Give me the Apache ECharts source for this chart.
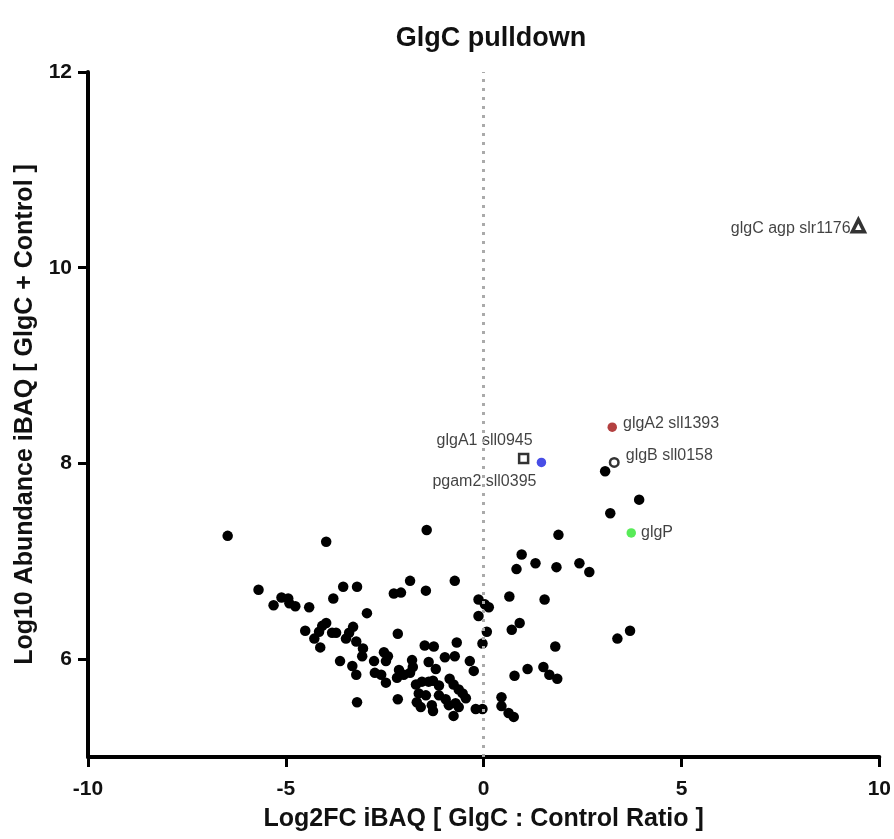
<!DOCTYPE html>
<html>
<head>
<meta charset="utf-8">
<title>GlgC pulldown</title>
<script src="https://cdn.jsdelivr.net/npm/echarts@6/dist/echarts.min.js"></script>
<style>
  html, body { margin: 0; padding: 0; background: #fff; }
  #chart { width: 894px; height: 839px; }
</style>
</head>
<body>
<div id="chart"></div>
<script>
  // other co-purified proteins: [log2FC, log10 abundance]
  const otherProteins = [
    [-6.47, 7.26], [-3.98, 7.20], [-1.44, 7.32],
    [-5.69, 6.71], [-5.11, 6.63], [-4.94, 6.62], [-5.31, 6.55], [-4.91, 6.57], [-4.76, 6.54], [-4.41, 6.53],
    [-3.80, 6.62], [-3.55, 6.74], [-3.20, 6.74], [-2.95, 6.47], [-2.27, 6.67], [-2.09, 6.68], [-1.86, 6.80], [-1.46, 6.70],
    [-3.98, 6.37], [-4.08, 6.34], [-4.51, 6.29], [-4.16, 6.28], [-4.28, 6.21], [-4.13, 6.12], [-3.83, 6.27], [-3.73, 6.27],
    [-3.40, 6.27], [-3.30, 6.33], [-3.48, 6.21], [-3.22, 6.18], [-3.05, 6.11], [-3.07, 6.03], [-3.63, 5.98], [-3.32, 5.93],
    [-3.22, 5.84], [-3.20, 5.56],
    [-2.17, 6.26], [-2.77, 5.98], [-2.75, 5.86], [-2.59, 5.84], [-2.47, 5.76], [-2.52, 6.07], [-2.42, 6.03], [-2.47, 5.98],
    [-2.14, 5.89], [-2.19, 5.81], [-2.02, 5.84], [-1.81, 5.99], [-1.79, 5.92], [-1.86, 5.86],
    [-1.49, 6.14], [-1.26, 6.13], [-1.39, 5.97], [-1.21, 5.90], [-0.98, 6.02], [-0.73, 6.03], [-0.68, 6.17],
    [-0.35, 5.98], [-0.25, 5.88], [-0.73, 6.80],
    [-0.13, 6.61], [0.03, 6.56], [0.13, 6.53], [-0.13, 6.44], [0.08, 6.28], [-0.03, 6.16],
    [-2.17, 5.59], [-1.71, 5.74], [-1.56, 5.77], [-1.39, 5.77], [-1.28, 5.78], [-1.13, 5.73], [-0.86, 5.80], [-0.76, 5.74],
    [-0.63, 5.69], [-0.53, 5.65], [-0.45, 5.60], [-1.64, 5.65], [-1.69, 5.56], [-1.59, 5.51], [-1.31, 5.53], [-1.28, 5.47],
    [-0.96, 5.59], [-0.88, 5.53], [-0.71, 5.55], [-0.63, 5.51], [-0.76, 5.42], [-1.46, 5.63], [-1.13, 5.63],
    [-0.20, 5.49], [-0.03, 5.49],
    [0.83, 6.92], [1.31, 6.98], [1.84, 6.94], [2.42, 6.98], [2.67, 6.89], [0.65, 6.64], [1.54, 6.61], [0.71, 6.30], [0.91, 6.37],
    [1.81, 6.13], [3.38, 6.21], [3.70, 6.29], [0.78, 5.83], [1.11, 5.90], [1.51, 5.92], [1.66, 5.84], [1.86, 5.80],
    [0.45, 5.61], [0.45, 5.52], [0.63, 5.45], [0.76, 5.41], [1.89, 7.27], [0.96, 7.07], [3.07, 7.92], [3.93, 7.63], [3.20, 7.49]
  ];

  // highlighted proteins
  const glgC = [9.47, 10.43];
  const glgA1 = [1.01, 8.05];
  const pgam2 = [1.46, 8.01];
  const glgA2 = [3.25, 8.37];
  const glgB = [3.30, 8.01];
  const glgP = [3.73, 7.29];

  const yTicks = [6, 8, 10, 12];

  const font = "'Liberation Sans', Arial, sans-serif";
  const labelStyle = { show: true, color: '#111', fontSize: 16, fontFamily: font };

  let myChart = echarts.init(document.getElementById('chart'));
  let option = {
    animation: false,
    title: {
      text: 'GlgC pulldown',
      left: 486,
      textAlign: 'center',
      top: 20,
      textStyle: { fontSize: 27, fontWeight: 'bold', color: '#111', fontFamily: font }
    },
    grid: { left: 88, right: 12, top: 72, bottom: 82 },
    xAxis: {
      type: 'value',
      min: -10,
      max: 10,
      interval: 5,
      name: 'Log2FC iBAQ [ GlgC : Control Ratio ]',
      nameLocation: 'middle',
      nameGap: 50,
      nameTextStyle: { fontSize: 25, fontWeight: 'bold', color: '#111', fontFamily: font },
      axisLine: { onZero: false, lineStyle: { color: '#000', width: 4 } },
      axisTick: { length: 10, lineStyle: { color: '#000', width: 3 } },
      axisLabel: { margin: 22, fontSize: 21, fontWeight: 'bold', color: '#111', fontFamily: font },
      splitLine: { show: false }
    },
    yAxis: {
      type: 'value',
      min: 5,
      max: 12,
      name: 'Log10 Abundance iBAQ [ GlgC + Control ]',
      nameLocation: 'middle',
      nameGap: 50,
      nameTextStyle: { fontSize: 25, fontWeight: 'bold', color: '#111', fontFamily: font },
      axisLine: { show: true, onZero: false, lineStyle: { color: '#000', width: 4 } },
      axisTick: { show: true, length: 10, customValues: yTicks, lineStyle: { color: '#000', width: 3 } },
      axisLabel: { margin: 16, customValues: yTicks, fontSize: 21, fontWeight: 'bold', color: '#111', fontFamily: font },
      splitLine: { show: false }
    },
    series: [
      {
        type: 'scatter',
        data: [],
        z: 1,
        markLine: {
          silent: true,
          symbol: 'none',
          label: { show: false },
          lineStyle: { color: '#aaa', width: 3, type: [3, 6] },
          data: [{ xAxis: 0 }]
        }
      },
      {
        name: 'other',
        type: 'scatter',
        symbolSize: 10.5,
        itemStyle: { color: '#000', opacity: 1 },
        data: otherProteins,
        z: 3
      },
      {
        name: 'glgC',
        type: 'scatter',
        symbol: 'triangle',
        symbolSize: 12,
        itemStyle: { color: '#fff', borderColor: '#000', borderWidth: 3.5 },
        label: Object.assign({}, labelStyle, { position: 'left', distance: 0, formatter: 'glgC agp slr1176', offset: [0, 3] }),
        data: [glgC],
        z: 4
      },
      {
        name: 'glgA1',
        type: 'scatter',
        symbol: 'rect',
        symbolSize: 9,
        itemStyle: { color: '#fff', borderColor: '#000', borderWidth: 2.5 },
        label: Object.assign({}, labelStyle, { position: 'inside', formatter: 'glgA1 sll0945', offset: [-39, -18] }),
        data: [glgA1],
        z: 4
      },
      {
        name: 'pgam2',
        type: 'scatter',
        symbolSize: 9.5,
        itemStyle: { color: '#1a22e0' },
        label: Object.assign({}, labelStyle, { position: 'inside', formatter: 'pgam2 sll0395', offset: [-57, 19] }),
        data: [pgam2],
        z: 4
      },
      {
        name: 'glgA2',
        type: 'scatter',
        symbolSize: 9.5,
        itemStyle: { color: '#a01010' },
        label: Object.assign({}, labelStyle, { position: 'right', distance: 6, formatter: 'glgA2 sll1393', offset: [0, -4] }),
        data: [glgA2],
        z: 4
      },
      {
        name: 'glgB',
        type: 'scatter',
        symbolSize: 8.5,
        itemStyle: { color: '#fff', borderColor: '#000', borderWidth: 2.5 },
        label: Object.assign({}, labelStyle, { position: 'right', distance: 6, formatter: 'glgB sll0158', offset: [0, -7] }),
        data: [glgB],
        z: 4
      },
      {
        name: 'glgP',
        type: 'scatter',
        symbolSize: 9.5,
        itemStyle: { color: '#2ee62e' },
        label: Object.assign({}, labelStyle, { position: 'right', distance: 5, formatter: 'glgP' }),
        data: [glgP],
        z: 4
      }
    ]
  };
  myChart.setOption(option);
</script>
</body>
</html>
